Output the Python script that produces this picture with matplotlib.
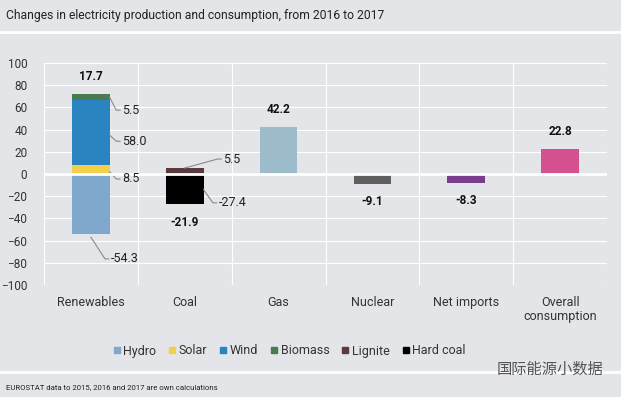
import matplotlib.pyplot as plt
import numpy as np

# --- DATA ---
categories = ["Renewables", "Coal", "Gas", "Nuclear", "Net imports", "Overall\nconsumption"]
hydro = -54.3
solar = 8.5
wind = 58.0
biomass = 5.5
lignite = 5.5
hard_coal = -27.4
single_names = ["Gas", "Nuclear", "Net imports", "Overall\nconsumption"]
single_values = [42.2, -9.1, -8.3, 22.8]
net_values = [17.7, -21.9, 42.2, -9.1, -8.3, 22.8]
legend_names = ["Hydro", "Solar", "Wind", "Biomass", "Lignite", "Hard coal"]

# --- STYLE ---
BG = "#e4e5e9"
C = {"Hydro": "#7fa8cc", "Solar": "#f2d04c", "Wind": "#2a84c2", "Biomass": "#4c7a52",
     "Lignite": "#5b3a3f", "Hard coal": "#000000"}
single_colors = ["#9dbccb", "#5f5f5f", "#7a3d8e", "#d4508e"]
plt.rcParams['font.family'] = ['Roboto', 'DejaVu Sans']

fig = plt.figure(figsize=(6.21, 3.97), dpi=100, facecolor=BG)
ax = fig.add_axes([44 / 621, 1 - 285 / 397, 563 / 621, 222 / 397])
ax.set_facecolor(BG)

x = np.arange(len(categories))
w = 0.4

# Renewables stack
ax.bar(x[0], hydro, w, color=C["Hydro"], zorder=3)
ax.bar(x[0], solar, w, color=C["Solar"], zorder=3)
ax.bar(x[0], wind, w, bottom=solar, color=C["Wind"], zorder=3)
ax.bar(x[0], biomass, w, bottom=solar + wind, color=C["Biomass"], zorder=3)
# Coal
ax.bar(x[1], lignite, w, color=C["Lignite"], zorder=3)
ax.bar(x[1], hard_coal, w, color=C["Hard coal"], zorder=3)
# Others
ax.bar(x[2:], single_values, w, color=single_colors, zorder=3)

# net labels (bold)
tops = [solar + wind + biomass, hard_coal, 42.2, -9.1, -8.3, 22.8]
for xi, v, t in zip(x, net_values, tops):
    off = 8 if v > 0 else -8
    ax.annotate(f"{v:.1f}", (xi, t), xytext=(0, off), textcoords="offset points",
                ha="center", va="bottom" if v > 0 else "top", fontsize=8.5,
                fontweight="bold", color="#111111", zorder=5)

# component labels with leader lines
lc = "#8a8a8a"
comp = [
    (x[0] + w / 2, 69, x[0] + 0.27, 57.5, "5.5"),
    (x[0] + w / 2, 35, x[0] + 0.27, 29.5, "58.0"),
    (x[0] + w / 2, 2, x[0] + 0.27, -4.5, "8.5"),
    (x[0], -57, x[0] + 0.15, -76.5, "-54.3"),
    (x[1], 5.4, x[1] + 0.35, 13.5, "5.5"),
    (x[1] + w / 2, -14, x[1] + 0.3, -26, "-27.4"),
]
for x0, y0, x1, y1, s in comp:
    ax.plot([x0, x1, x1 + 0.04], [y0, y1, y1], color=lc, lw=0.8, zorder=4, clip_on=False)
    ax.text(x1 + 0.06, y1, s, ha="left", va="center", fontsize=9, color="#222222", zorder=5)

# axes / grid
ax.set_xlim(-0.5, 5.5)
ax.set_ylim(-100, 100)
ax.set_yticks(np.arange(-100, 101, 20))
ax.set_xticks(x)
ax.set_xticklabels(categories, fontsize=9, color="#333333", linespacing=1.1)
ax.tick_params(axis="both", length=0, colors="#333333")
ax.tick_params(axis="y", labelsize=8.5, pad=12)
ax.tick_params(axis="x", pad=8)
for yv in np.arange(-100, 101, 20):
    ax.axhline(yv, color="white", lw=0.8, zorder=1)
for xv in np.arange(-0.5, 5.6, 1):
    ax.axvline(xv, color="white", lw=0.8, zorder=1)
ax.axhline(0, color="white", lw=2, zorder=4)
for sp in ax.spines.values():
    sp.set_visible(False)

# legend
handles = [plt.Line2D([], [], marker="s", ls="", color=C[n], markersize=5) for n in legend_names]
fig.legend(handles, legend_names, loc="center", bbox_to_anchor=(289 / 621, 1 - 351 / 397),
           ncol=6, frameon=False, fontsize=9, handlelength=0.7, handletextpad=0.2,
           columnspacing=0.9, labelcolor="#333333")

# title, separators, footer
fig.text(6 / 621, 1 - 15 / 397, "Changes in electricity production and consumption, from 2016 to 2017",
         fontsize=8.7, va="center", ha="left", color="#222222")
fig.add_artist(plt.Line2D([0, 1], [1 - 32 / 397] * 2, color="white", lw=2, transform=fig.transFigure))
fig.add_artist(plt.Line2D([0, 1], [1 - 372 / 397] * 2, color="white", lw=2, transform=fig.transFigure))
fig.text(6 / 621, 1 - 387 / 397, "EUROSTAT data to 2015, 2016 and 2017 are own calculations",
         fontsize=5.6, va="center", ha="left", color="#222222")
fig.text(497 / 621, 1 - 369 / 397, "国际能源小数据", fontsize=11, va="center", ha="left",
         color="#555555", family=["Noto Sans CJK SC", "DejaVu Sans"])

fig.savefig("out.png", dpi=100, facecolor=BG)
